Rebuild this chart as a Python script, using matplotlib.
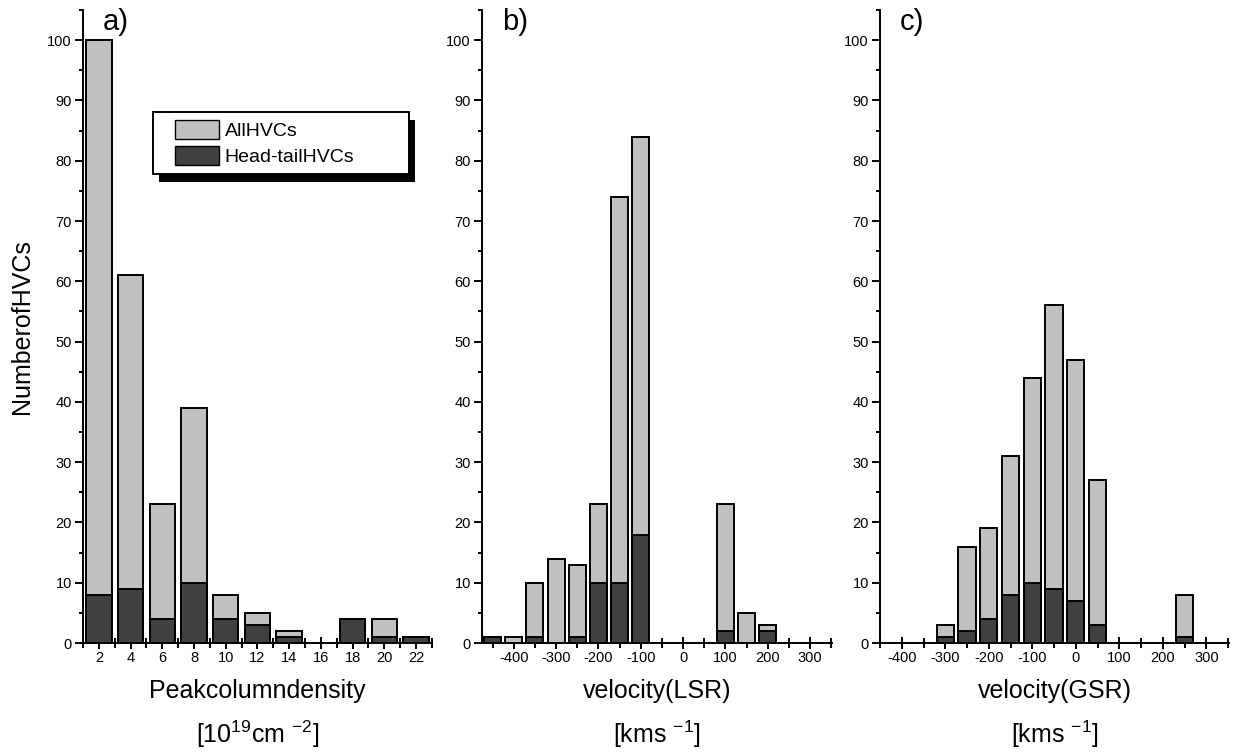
import numpy as np
import matplotlib
matplotlib.use('Agg')
import matplotlib.pyplot as plt
import matplotlib.transforms as mtransforms
from matplotlib.patches import Rectangle, Patch
from matplotlib.legend_handler import HandlerPatch
from matplotlib.ticker import MultipleLocator

plt.rcParams['font.family'] = ['Liberation Sans', 'DejaVu Sans']
plt.rcParams['mathtext.fontset'] = 'custom'
plt.rcParams['mathtext.rm'] = 'Liberation Sans'
plt.rcParams['mathtext.it'] = 'Liberation Sans'
plt.rcParams['axes.unicode_minus'] = False

# panel a: peak column density [1e19 cm^-2]
dens_bins = [2, 4, 6, 8, 10, 12, 14, 16, 18, 20, 22]
dens_all = [100, 61, 23, 39, 8, 5, 2, 0, 4, 4, 1]
dens_ht = [8, 9, 4, 10, 4, 3, 1, 0, 4, 1, 1]

# panel b: LSR velocity [km/s]
lsr_bins = [-450, -400, -350, -300, -250, -200, -150, -100, 100, 150, 200]
lsr_all = [1, 1, 10, 14, 13, 23, 74, 84, 23, 5, 3]
lsr_ht = [1, 0, 1, 0, 1, 10, 10, 18, 2, 0, 2]

# panel c: GSR velocity [km/s]
gsr_bins = [-300, -250, -200, -150, -100, -50, 0, 50, 250]
gsr_all = [3, 16, 19, 31, 44, 56, 47, 27, 8]
gsr_ht = [1, 2, 4, 8, 10, 9, 7, 3, 1]

light = '#c0c0c0'
dark = '#404040'

fig = plt.figure(figsize=(12.33, 7.55), dpi=100)
ax_a = fig.add_axes([0.0673, 0.1483, 0.283, 0.8384])
ax_b = fig.add_axes([0.3909, 0.1483, 0.2839, 0.8384])
ax_c = fig.add_axes([0.7137, 0.1483, 0.283, 0.8384])

panels = [
    (ax_a, dens_bins, dens_all, dens_ht, 1.6, (1, 23), 'a)',
     'Peakcolumndensity', r'[10$^{19}$cm $^{-2}$]'),
    (ax_b, lsr_bins, lsr_all, lsr_ht, 40, (-475, 352), 'b)',
     'velocity(LSR)', r'[kms $^{-1}$]'),
    (ax_c, gsr_bins, gsr_all, gsr_ht, 40, (-450, 352), 'c)',
     'velocity(GSR)', r'[kms $^{-1}$]'),
]

for ax, xb, ya, yh, w, xl, tag, lab1, lab2 in panels:
    ax.bar(xb, ya, width=w, color=light, edgecolor='black', linewidth=1.4, zorder=2)
    ax.bar(xb, yh, width=w, color=dark, edgecolor='black', linewidth=1.4, zorder=3)
    ax.set_xlim(*xl)
    ax.set_ylim(0, 105)
    ax.spines['top'].set_visible(False)
    ax.spines['right'].set_visible(False)
    for s in ('left', 'bottom'):
        ax.spines[s].set_linewidth(1.4)
        ax.spines[s].set_zorder(4)
    if ax is ax_a:
        ax.set_xticks(np.arange(2, 23, 2))
        ax.xaxis.set_minor_locator(MultipleLocator(1))
    else:
        ax.set_xticks(np.arange(-400, 301, 100))
        ax.xaxis.set_minor_locator(MultipleLocator(50))
    ax.set_yticks(np.arange(0, 101, 10))
    ax.yaxis.set_minor_locator(MultipleLocator(5))
    ax.tick_params(axis='x', which='major', direction='inout', length=8, width=1.4, labelsize=10.5, pad=2)
    ax.tick_params(axis='x', which='minor', direction='inout', length=7, width=1.4)
    ax.tick_params(axis='y', which='major', direction='out', length=6, width=1.4, labelsize=10.5, pad=2)
    ax.tick_params(axis='y', which='minor', direction='out', length=3, width=1.4)
    ax.text(0.057, 0.968, tag, transform=ax.transAxes, fontsize=21, va='baseline', ha='left')
    tr = mtransforms.blended_transform_factory(ax.transAxes, fig.transFigure)
    ax.text(0.5, 0.0755, lab1, transform=tr, fontsize=18, ha='center', va='baseline')
    ax.text(0.5, 0.016, lab2, transform=tr, fontsize=18, ha='center', va='baseline')

fig.text(0.018, 0.568, 'NumberofHVCs', rotation=90, fontsize=18, ha='center', va='center')


def inset_box(legend, orig_handle, xdescent, ydescent, width, height, fontsize):
    # swatch sits at the right end of the handle area, like the original legend
    sw = 44 / 100 * 72 * fontsize / fontsize
    return Rectangle((-xdescent + width - sw, -ydescent), sw, height)


handles = [Patch(facecolor=light, edgecolor='black', linewidth=1.0),
           Patch(facecolor=dark, edgecolor='black', linewidth=1.0)]
leg = ax_a.legend(handles, ['AllHVCs', 'Head-tailHVCs'], loc='upper left',
                  bbox_to_anchor=(0.2, 0.739, 0.733, 0.1), mode='expand',
                  fontsize=14, frameon=True, fancybox=False, framealpha=1,
                  edgecolor='black', handlelength=3.0, handleheight=1.13,
                  labelspacing=0.3, handletextpad=0.3, borderpad=0.4,
                  borderaxespad=0,
                  handler_map={Patch: HandlerPatch(patch_func=inset_box)})
leg.get_frame().set_linewidth(1.4)
leg.set_zorder(6)

fig.canvas.draw()
bb = leg.get_window_extent()
shadow = Rectangle((bb.x0 + 6, bb.y0 - 8), bb.width, bb.height, transform=None,
                   facecolor='black', edgecolor='none', zorder=5)
ax_a.add_artist(shadow)

fig.savefig('out.png', dpi=100)
